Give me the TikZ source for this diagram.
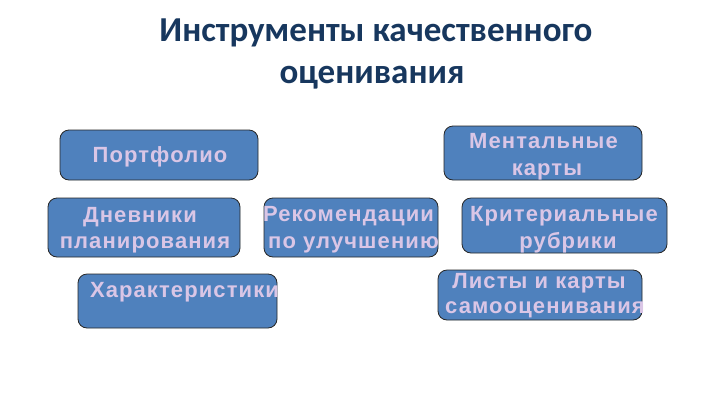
\documentclass[tikz,border=0pt]{standalone}
\usepackage{fontspec}
\setmainfont{Liberation Sans}[LetterSpace=5]
\newfontfamily\titlefont{Carlito}
\definecolor{boxblue}{RGB}{79,129,189}
\definecolor{boxtext}{RGB}{218,198,230}
\definecolor{titleblue}{RGB}{23,55,94}
\begin{document}
\begin{tikzpicture}[x=1pt,y=-1pt,
  bx/.style={draw=black!85,line width=0.8pt,fill=boxblue,rounded corners=9pt,inner sep=0pt},
  tl/.style={text=boxtext,font=\bfseries\fontsize{22}{26}\selectfont,anchor=base,inner sep=0pt},
  ttl/.style={text=titleblue,font=\titlefont\bfseries\fontsize{35}{42}\selectfont,anchor=base}]
\useasboundingbox[fill=white] (0,0) rectangle (720,405);
\node[ttl] (t1) at (376,41) {Инструменты качественного};
\node[ttl] (t2) at (372,83) {оценивания};
% boxes
\node[bx,minimum width=198pt,minimum height=50pt] (port) at (159,155) {};
\node[bx,minimum width=198pt,minimum height=54pt] (ment) at (543,153) {};
\node[bx,minimum width=192pt,minimum height=59pt] (dnev) at (144,227.5) {};
\node[bx,minimum width=174pt,minimum height=59pt] (rek) at (351,227.5) {};
\node[bx,minimum width=205pt,minimum height=55pt] (krit) at (564.5,225.5) {};
\node[bx,minimum width=199pt,minimum height=54pt] (har) at (177.5,301) {};
\node[bx,minimum width=204pt,minimum height=50pt] (list) at (540,295) {};
% texts
\node[tl] (portA) at (160,162) {Портфолио};
\node[tl] (mentA) at (543.5,148) {Ментальные};
\node[tl] (mentB) at (547,175) {карты};
\node[tl] (dnevA) at (140,222) {Дневники};
\node[tl] (dnevB) at (145,248) {планирования};
\node[tl] (rekA) at (348.5,221) {Рекомендации};
\node[tl] (rekB) at (353.5,248) {по улучшению};
\node[tl] (kritA) at (564,221) {Критериальные};
\node[tl] (kritB) at (568,248) {рубрики};
\node[tl] (harA) at (184.5,297) {Характеристики};
\node[tl] (listA) at (539,288) {Листы и карты};
\node[tl] (listB) at (545,313) {самооценивания};
\end{tikzpicture}
\end{document}
